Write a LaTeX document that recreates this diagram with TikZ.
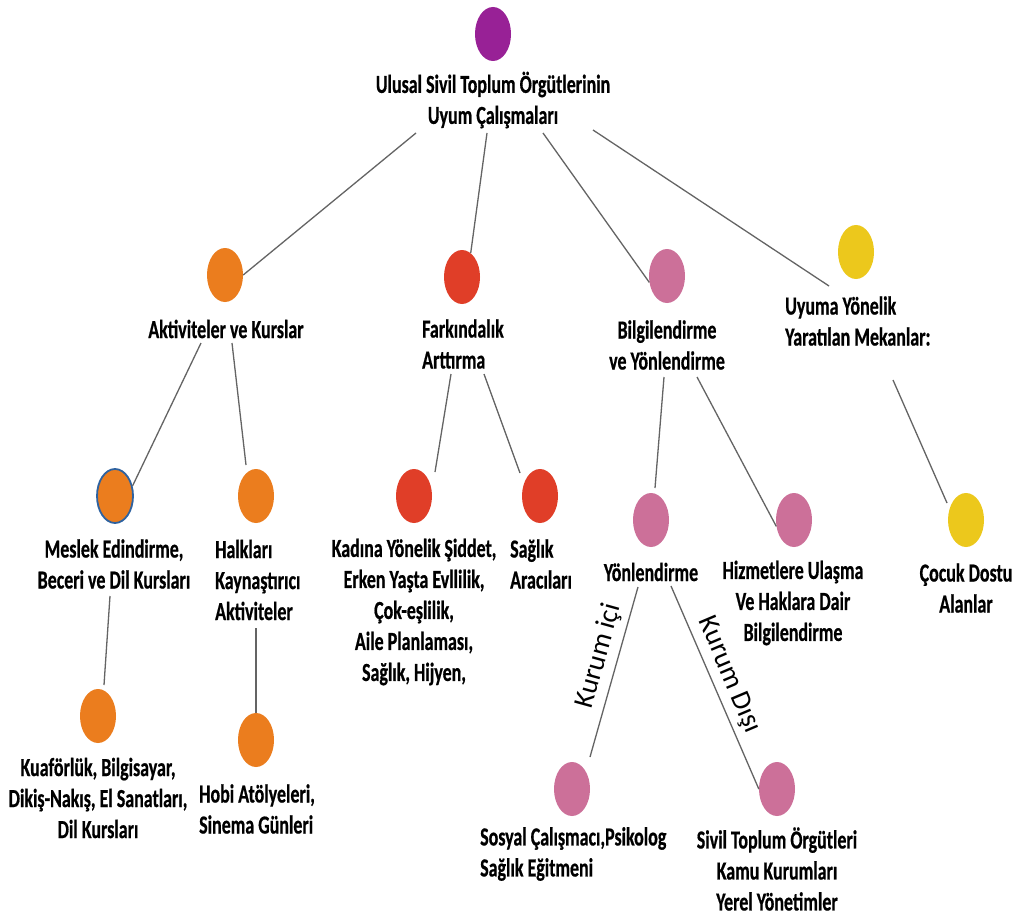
\documentclass[tikz,border=0pt]{standalone}
\usepackage{fontspec}
\setmainfont{Carlito}
\newfontfamily\lblfont{Carlito}[FakeStretch=0.69, BoldFeatures={FakeBold=0.6}]
\usetikzlibrary{shapes.geometric}
\definecolor{cpurple}{HTML}{982196}
\definecolor{corange}{HTML}{EB7D1E}
\definecolor{cred}{HTML}{E03E28}
\definecolor{cpink}{HTML}{CC7099}
\definecolor{cyellow}{HTML}{ECC81C}
\definecolor{cblue}{HTML}{2E62A0}
\definecolor{linegray}{HTML}{646464}
\tikzset{
  dot/.style={ellipse, minimum width=36pt, minimum height=54pt, inner sep=0pt, fill=#1},
  lbl/.style={font={\lblfont\bfseries\fontsize{26}{31}\selectfont}, inner sep=0pt, align=center},
  lbll/.style={lbl, align=left, anchor=west},
  link/.style={draw=linegray, line width=1.3pt},
  edgelbl/.style={font={\fontsize{28}{30}\selectfont}, inner sep=0pt}
}
\begin{document}
\begin{tikzpicture}[x=1pt, y=-1pt]
\fill[white] (0,0) rectangle (1016,917);
\useasboundingbox (0,0) rectangle (1016,917);

% ellipses
\node[dot=cpurple] (e-root) at (493,34) {};
\node[dot=corange] (e-akt) at (225,275) {};
\node[dot=cred] (e-fark) at (462,277) {};
\node[dot=cpink] (e-bilg) at (667,276) {};
\node[dot=cyellow] (e-uyum) at (856,252) {};
\node[dot=corange, draw=cblue, line width=1.8pt] (e-mes) at (115,496) {};
\node[dot=corange] (e-halk) at (256,496) {};
\node[dot=cred] (e-kad) at (414,496) {};
\node[dot=cred] (e-sag) at (540,496) {};
\node[dot=cpink] (e-yon) at (651,520) {};
\node[dot=cpink] (e-hizm) at (794,520) {};
\node[dot=cyellow] (e-coc) at (966,520) {};
\node[dot=corange] (e-kua) at (98,716) {};
\node[dot=corange] (e-hobi) at (256,740) {};
\node[dot=cpink] (e-sos) at (572,789) {};
\node[dot=cpink] (e-siv) at (777,789) {};

% labels
\node[lbl] (t-root) at (493,100) {Ulusal Sivil Toplum Örgütlerinin\\Uyum Çalışmaları};
\node[lbl] (t-akt) at (226,329) {Aktiviteler ve Kurslar};
\node[lbll] (t-fark) at (422,344) {Farkındalık\\Arttırma};
\node[lbl] (t-bilg) at (667,345) {Bilgilendirme\\ve Yönlendirme};
\node[lbll] (t-uyum) at (785,321) {Uyuma Yönelik\\Yaratılan Mekanlar:};
\node[lbl] (t-mes) at (114,564) {Meslek Edindirme,\\Beceri ve Dil Kursları};
\node[lbll] (t-halk) at (215,580) {Halkları\\Kaynaştırıcı\\Aktiviteler};
\node[lbl] (t-kad) at (414,612) {Kadına Yönelik Şiddet,\\Erken Yaşta Evllilik,\\Çok-eşlilik,\\Aile Planlaması,\\Sağlık, Hijyen,};
\node[lbll] (t-sag) at (510,564) {Sağlık\\Aracıları};
\node[lbl] (t-yon) at (651,572) {Yönlendirme};
\node[lbl] (t-hizm) at (793,603) {Hizmetlere Ulaşma\\Ve Haklara Dair\\Bilgilendirme};
\node[lbl] (t-coc) at (966,588) {Çocuk Dostu\\Alanlar};
\node[lbl] (t-kua) at (98,798) {Kuaförlük, Bilgisayar,\\Dikiş-Nakış, El Sanatları,\\Dil Kursları};
\node[lbll] (t-hobi) at (199,809) {Hobi Atölyeleri,\\Sinema Günleri};
\node[lbll] (t-sos) at (480,854) {Sosyal Çalışmacı,Psikolog\\Sağlık Eğitmeni};
\node[lbl] (t-siv) at (777,869) {Sivil Toplum Örgütleri\\Kamu Kurumları\\Yerel Yönetimler};

% connector end points
\coordinate (s1) at (416,133); \coordinate (s2) at (487,133);
\coordinate (s3) at (543,133); \coordinate (s4) at (593,130);
\coordinate (u4) at (829,286);
\coordinate (s5) at (201,343); \coordinate (s6) at (232,343);
\coordinate (u6) at (246,465);
\coordinate (s7) at (110,596); \coordinate (u7) at (104,685);
\coordinate (s8) at (256,628);
\coordinate (s9) at (451,374); \coordinate (u9) at (435,472);
\coordinate (s10) at (484,374); \coordinate (u10) at (520,473);
\coordinate (s11) at (664,377); \coordinate (u11) at (655,488);
\coordinate (s12) at (697,377);
\coordinate (s13) at (893,380); \coordinate (u13) at (947,503);
\coordinate (s14) at (638,587); \coordinate (u14) at (590,757);
\coordinate (s15) at (671,586);

\draw[link] (s1) -- (e-akt.east);
\draw[link] (s2) -- (e-fark.70);
\draw[link] (s3) -- (e-bilg.200);
\draw[link] (s4) -- (u4);
\draw[link] (s5) -- (e-mes.30);
\draw[link] (s6) -- (u6);
\draw[link] (s7) -- (u7);
\draw[link] (s8) -- (e-hobi.north);
\draw[link] (s9) -- (u9);
\draw[link] (s10) -- (u10);
\draw[link] (s11) -- (u11);
\draw[link] (s12) -- (e-hizm.200);
\draw[link] (s13) -- (u13);
\draw[link] (s14) -- (u14);
\draw[link] (s15) -- (e-siv.west);

\node[edgelbl, rotate=74.5] (k-ici) at (599,656) {Kurum içi};
\node[edgelbl, rotate=-67] (k-disi) at (729,675) {Kurum Dışı};
\end{tikzpicture}
\end{document}
